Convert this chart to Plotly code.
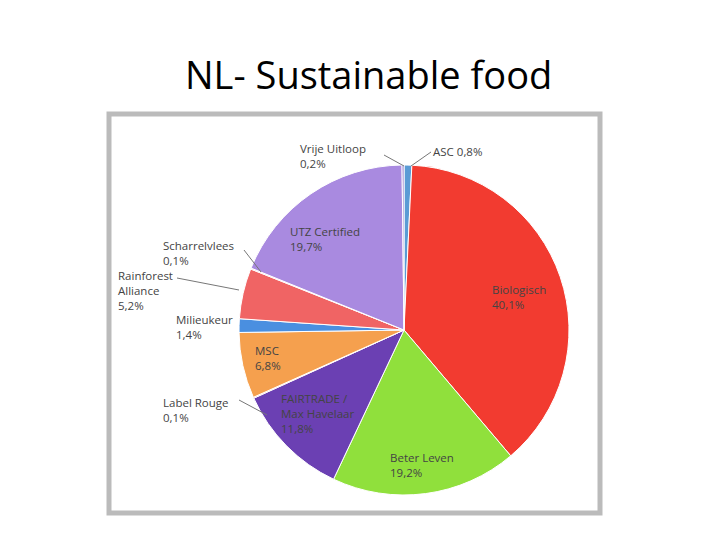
import plotly.graph_objects as go

labels = ["ASC", "Biologisch", "Beter Leven", "FAIRTRADE / Max Havelaar", "Label Rouge",
          "MSC", "Milieukeur", "Rainforest Alliance", "Scharrelvlees", "UTZ Certified", "Vrije Uitloop"]
values = [0.8, 40.1, 19.2, 11.8, 0.1, 6.8, 1.4, 5.2, 0.1, 19.7, 0.2]
colors = ["#5b9bd5", "#f23b30", "#90e03c", "#6b40b3", "#e05050", "#f5a04e", "#4a8fe0",
          "#f06464", "#f08080", "#a98ae0", "#8a70c8"]

W, H = 720, 540
DX, DY = -9, -8
def px(x, y, dx=DX, dy=DY):
    return (x + dx) / W, 1 - (y + dy) / H

fig = go.Figure(go.Pie(
    labels=labels, values=values, sort=False, direction="clockwise", rotation=0,
    marker=dict(colors=colors, line=dict(color="white", width=1)),
    textinfo="none", hoverinfo="label+value", showlegend=False,
    domain=dict(x=[(240 + DX) / W, (570 + DX) / W], y=[1 - (495 + DY) / H, 1 - (165 + DY) / H]),
))

ann = [
    ("Vrije Uitloop<br>0,2%", 300, 143),
    ("ASC 0,8%", 433, 146),
    ("UTZ Certified<br>19,7%", 290, 226),
    ("Scharrelvlees<br>0,1%", 163, 240),
    ("Rainforest<br>Alliance<br>5,2%", 118, 270),
    ("Milieukeur<br>1,4%", 176, 314),
    ("Biologisch<br>40,1%", 492, 284),
    ("MSC<br>6,8%", 255, 345),
    ("Label Rouge<br>0,1%", 163, 397),
    ("FAIRTRADE /<br>Max Havelaar<br>11,8%", 281, 393),
    ("Beter Leven<br>19,2%", 390, 452),
]
annotations = []
for t, x, y in ann:
    ax, ay = px(x, y, -10, -12)
    annotations.append(dict(text=t, x=ax, y=ay, xref="paper", yref="paper", showarrow=False,
                            xanchor="left", yanchor="top",
                            font=dict(size=11.5, color="#444", family="Open Sans"), align="left"))
annotations.append(dict(text="NL- Sustainable food", x=0.5, y=1 - 38 / H, xref="paper", yref="paper",
                        showarrow=False, font=dict(size=38, color="black", family="Open Sans")))

a0, b0 = px(110, 114); a1, b1 = px(601, 513)
shapes = [dict(type="rect", xref="paper", yref="paper", x0=a0, x1=a1, y0=b1, y1=b0,
               line=dict(color="#bbbbbb", width=5), layer="below")]
for (x0, y0, x1, y1) in [(385, 155, 405, 166), (432, 152, 412, 166), (245, 250, 262, 272),
                         (178, 278, 240, 290), (240, 400, 268, 415)]:
    a, b = px(x0, y0); c, d = px(x1, y1)
    shapes.append(dict(type="line", xref="paper", yref="paper", x0=a, y0=b, x1=c, y1=d,
                       line=dict(color="#777", width=1)))

fig.update_layout(width=W, height=H, margin=dict(l=0, r=0, t=0, b=0),
                  paper_bgcolor="white", plot_bgcolor="white",
                  annotations=annotations, shapes=shapes)
fig.write_html("out.html")
